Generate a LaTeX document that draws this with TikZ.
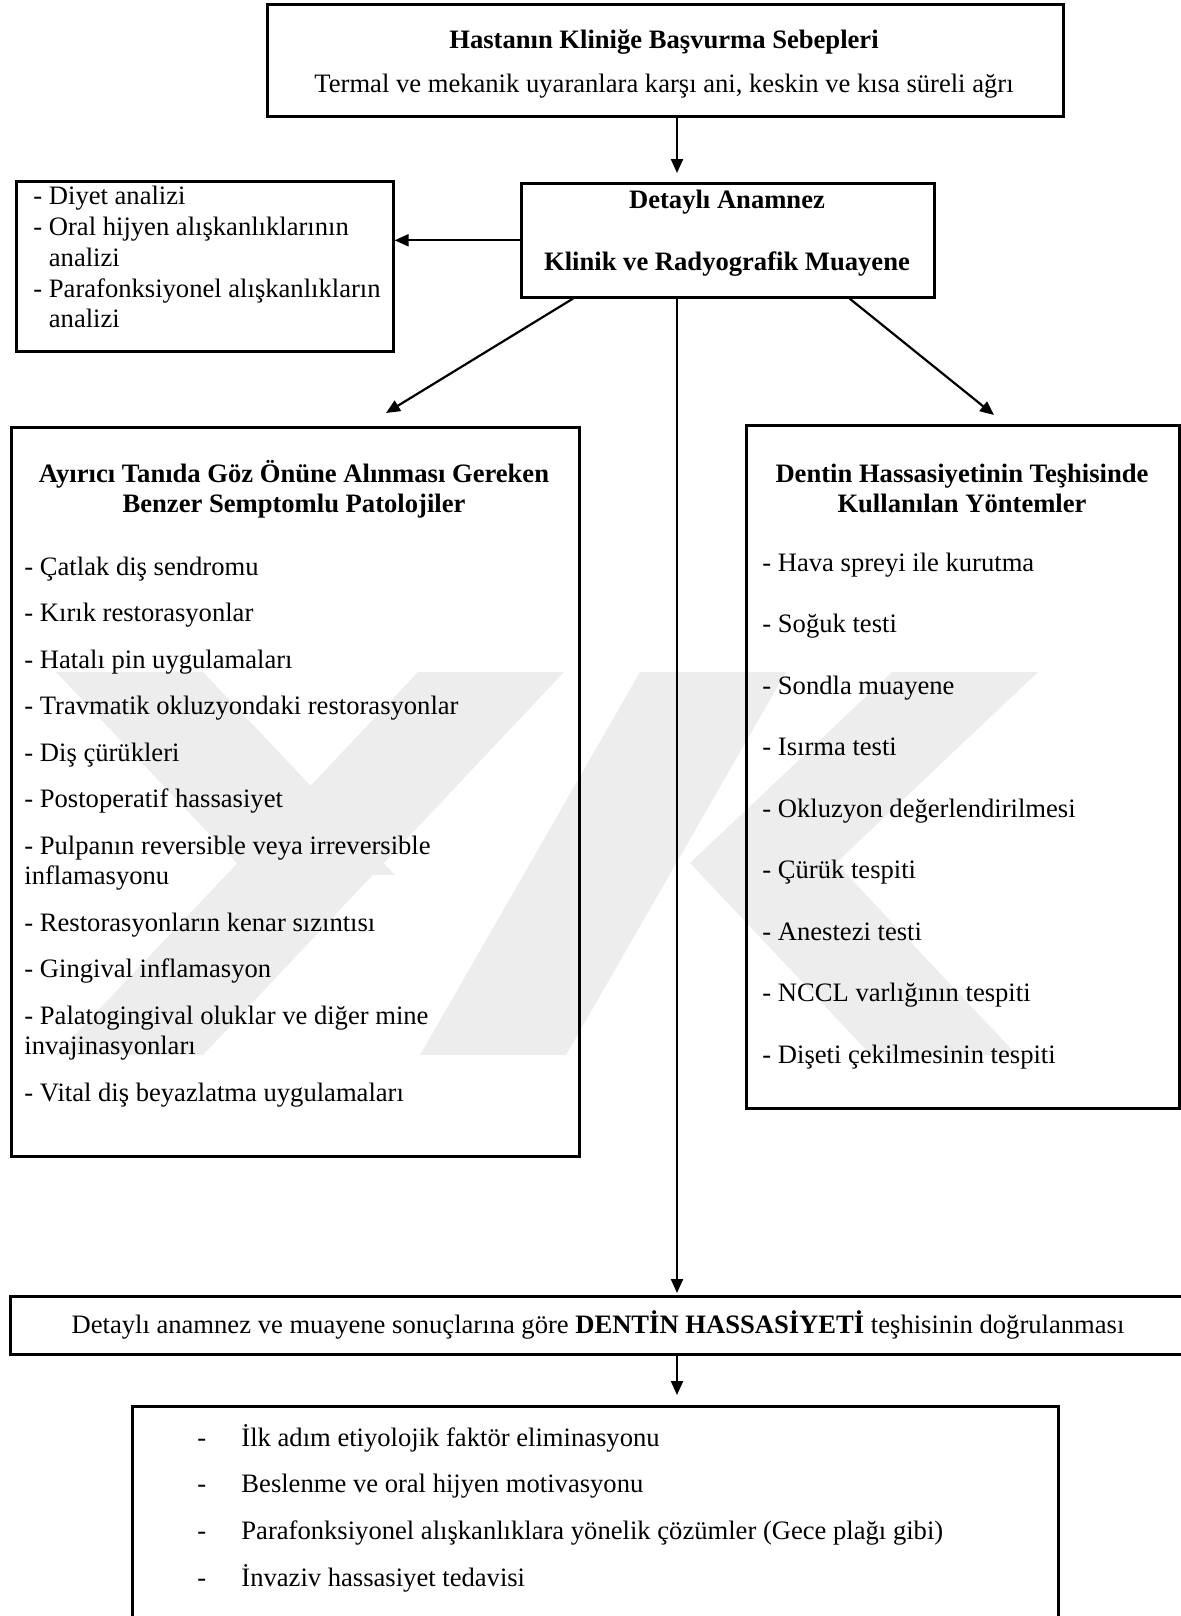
\documentclass[tikz,border=0pt]{standalone}
\usepackage{fontspec}
\setmainfont{Liberation Serif}
\usetikzlibrary{arrows.meta,calc,positioning}
\definecolor{wmgray}{gray}{0.93}

\tikzset{
  box/.style={draw,line width=1.3pt,inner sep=0pt,anchor=north west},
  txt/.style={inner sep=0pt,anchor=base west,font=\fontsize{13.3}{15.25}\selectfont},
  ttl/.style={inner sep=0pt,anchor=base,font=\fontsize{13.3}{15}\selectfont\bfseries},
  arr/.style={line width=1.1pt,-{Triangle[length=7pt,width=6pt]}}
}

\begin{document}
\begin{tikzpicture}[x=0.5pt,y=-0.5pt]
 \useasboundingbox(0,0)rectangle(1180,1616);
 % watermark
 \fill[wmgray](418,672)--(564,672)--(203,1055)--(56,1055)--cycle;
 \fill[wmgray](56,672)--(203,672)--(395,875)--(248,875)--cycle;
 \fill[wmgray](640,672)--(786,672)--(566,1055)--(420,1055)--cycle;
 \fill[wmgray](892,672)--(1038,672)--(836,863)--(690,863)--cycle;
 \fill[wmgray](690,863)--(836,863)--(1017,1055)--(871,1055)--cycle;
 % boxes
 \node[box,minimum width=398pt,minimum height=56pt](sebep)at(266,3){};
 \node[box,minimum width=206.5pt,minimum height=57pt](dtl)at(520,182){};
 \node[box,minimum width=188.5pt,minimum height=85pt](diyet)at(15,180){};
 \node[box,minimum width=284pt,minimum height=364.5pt](ayirici)at(10,426){};
 \node[box,minimum width=216.5pt,minimum height=341.5pt](yontem)at(745,424){};
 \node[box,minimum width=600pt,minimum height=29pt](dogru)at(9,1295){};
 \node[box,minimum width=463pt,minimum height=120pt](tedavi)at(131,1405){};
 % texts
 \node[ttl](sebepT)at(664,49){Hastanın Kliniğe Başvurma Sebepleri};
 \node[txt,anchor=base](sebepA)at(664,93){Termal ve mekanik uyaranlara karşı ani, keskin ve kısa süreli ağrı};
 \node[ttl](dtlA)at(727,208){Detaylı Anamnez};
 \node[ttl](dtlB)at(727,270){Klinik ve Radyografik Muayene};
 \node[txt,font=\fontsize{13.3}{15.5}\selectfont](diyetT)at(33,204){\begin{tabular}[t]{@{}l@{}}- Diyet analizi\\- Oral hijyen alışkanlıklarının\\\phantom{- }analizi\\- Parafonksiyonel alışkanlıkların\\\phantom{- }analizi\end{tabular}};
 \node[ttl](ayiriciT)at(294,482){\begin{tabular}[t]{@{}c@{}}Ayırıcı Tanıda Göz Önüne Alınması Gereken\\Benzer Semptomlu Patolojiler\end{tabular}};
 \node[txt](ayiriciL)at(24,575){\begin{tabular}[t]{@{}l@{}}- Çatlak diş sendromu\\[8pt]- Kırık restorasyonlar\\[8pt]- Hatalı pin uygulamaları\\[8pt]- Travmatik okluzyondaki restorasyonlar\\[8pt]- Diş çürükleri\\[8pt]- Postoperatif hassasiyet\\[8pt]- Pulpanın reversible veya irreversible\\inflamasyonu\\[8pt]- Restorasyonların kenar sızıntısı\\[8pt]- Gingival inflamasyon\\[8pt]- Palatogingival oluklar ve diğer mine\\invajinasyonları\\[8pt]- Vital diş beyazlatma uygulamaları\end{tabular}};
 \node[ttl](yontemT)at(962,482){\begin{tabular}[t]{@{}c@{}}Dentin Hassasiyetinin Teşhisinde\\Kullanılan Yöntemler\end{tabular}};
 \node[txt](yontemL)at(762,571){\begin{tabular}[t]{@{}l@{}}- Hava spreyi ile kurutma\\[15.5pt]- Soğuk testi\\[15.5pt]- Sondla muayene\\[15.5pt]- Isırma testi\\[15.5pt]- Okluzyon değerlendirilmesi\\[15.5pt]- Çürük tespiti\\[15.5pt]- Anestezi testi\\[15.5pt]- NCCL varlığının tespiti\\[15.5pt]- Dişeti çekilmesinin tespiti\end{tabular}};
 \node[txt,anchor=base](dogruT)at(598,1333){Detaylı anamnez ve muayene sonuçlarına göre \textbf{DENTİN HASSASİYETİ} teşhisinin doğrulanması};
 \node[txt](tedaviL)at(197,1446){\begin{tabular}[t]{@{}l@{}}-\hspace{17.6pt}İlk adım etiyolojik faktör eliminasyonu\\[8.1pt]-\hspace{17.6pt}Beslenme ve oral hijyen motivasyonu\\[8.1pt]-\hspace{17.6pt}Parafonksiyonel alışkanlıklara yönelik çözümler (Gece plağı gibi)\\[8.1pt]-\hspace{17.6pt}İnvaziv hassasiyet tedavisi\end{tabular}};
 % connectors
 \coordinate(ax)at(677,0);
 \coordinate(lt)at(386,413);
 \coordinate(rt)at(994,415);
 \draw[arr,shorten >=4.5pt](sebep.south -| ax)--(dtl.north -| ax);
 \draw[arr](dtl.west)--(dtl.west -| diyet.east);
 \draw[arr]([xshift=26.5pt]dtl.south west)--(lt);
 \draw[arr]([xshift=-43pt]dtl.south east)--(rt);
 \draw[arr,shorten >=1pt](dtl.south -| ax)--(dogru.north -| ax);
 \draw[arr,shorten >=5pt](dogru.south -| ax)--(tedavi.north -| ax);
\end{tikzpicture}
\end{document}
